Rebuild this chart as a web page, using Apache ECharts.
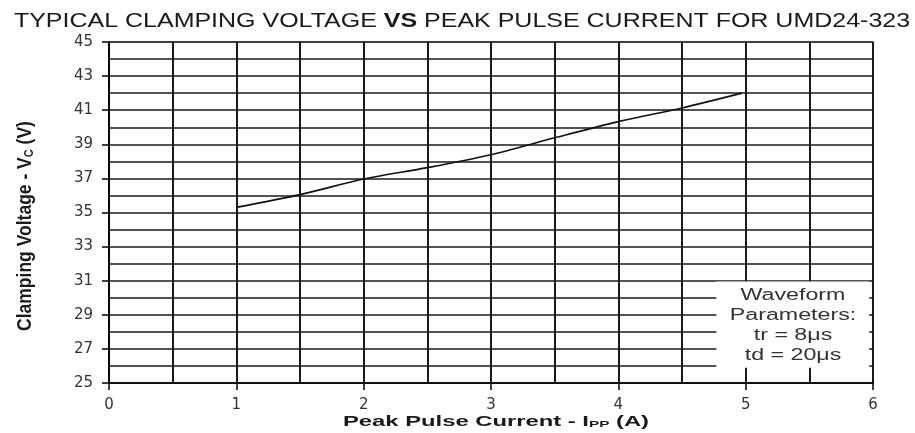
<!DOCTYPE html>
<html>
<head>
<meta charset="utf-8">
<script src="https://cdn.jsdelivr.net/npm/echarts@6/dist/echarts.min.js"></script>
<style>html,body{margin:0;padding:0;background:#fff}#c{width:915px;height:433px}</style>
</head>
<body>
<div id="c"></div>
<script>
// Data
var currentA = [1, 1.5, 2, 2.5, 3, 3.5, 4, 4.5, 4.97];
var clampV = [35.3, 36.05, 36.96, 37.63, 38.39, 39.38, 40.33, 41.13, 42.0];
var xTicks = [0, 1, 2, 3, 4, 5, 6];
var yTicks = [25, 27, 29, 31, 33, 35, 37, 39, 41, 43, 45];
var noteLines = ['Waveform', 'Parameters:', 'tr = 8\u03bcs', 'td = 20\u03bcs'];
var noteBox = [[4.77, 30.95], [5.97, 25.9]];

var chart = echarts.init(document.getElementById('c'), null, {renderer: 'canvas'});
var lineData = currentA.map(function (x, i) { return [x, clampV[i]]; });
var fontL = "'Liberation Sans', Arial, sans-serif";
var fontD = "'DejaVu Sans', sans-serif";

var option = {
  animation: false,
  backgroundColor: '#fff',
  grid: {left: 109, right: 42, top: 42, bottom: 50, show: true, borderColor: '#999', borderWidth: 1.5, backgroundColor: 'transparent'},
  xAxis: [{
    type: 'value', min: 0, max: 6, interval: 1,
    axisLine: {show: true, onZero: false, lineStyle: {color: '#000', width: 1.5}},
    axisTick: {show: true, length: 7, lineStyle: {color: '#000', width: 1.5}},
    axisLabel: {fontFamily: fontD, fontSize: 15, color: '#333', margin: 15,
      formatter: function (v) { return xTicks.indexOf(v) >= 0 ? String(v) : ''; }},
    splitLine: {show: false}
  }, {
    type: 'value', min: 0, max: 6, interval: 0.5, position: 'bottom',
    axisLine: {show: false}, axisTick: {show: false}, axisLabel: {show: false},
    splitLine: {show: true, lineStyle: {color: '#1a1a1a', width: 2}}
  }],
  yAxis: [{
    type: 'value', min: 25, max: 45, interval: 2,
    axisLine: {show: true, onZero: false, lineStyle: {color: '#000', width: 1.5}},
    axisTick: {show: true, length: 7, lineStyle: {color: '#000', width: 1.5}},
    axisLabel: {fontFamily: fontD, fontSize: 15, color: '#333', margin: 16,
      formatter: function (v) { return yTicks.indexOf(v) >= 0 ? String(v) : ''; }},
    splitLine: {show: false}
  }, {
    type: 'value', min: 25, max: 45, interval: 1, position: 'left',
    axisLine: {show: false}, axisTick: {show: false}, axisLabel: {show: false},
    splitLine: {show: true, lineStyle: {color: '#1a1a1a', width: 1.5}}
  }],
  graphic: [{
    type: 'text', x: 462, y: 21, scaleX: 1.19,
    style: {
      text: '{a|TYPICAL CLAMPING VOLTAGE }{b|VS}{a| PEAK PULSE CURRENT FOR UMD24-323}',
      textAlign: 'center', textVerticalAlign: 'middle',
      rich: {
        a: {fontFamily: fontL, fontSize: 21, fontWeight: 'normal', fill: '#1a1a1a'},
        b: {fontFamily: fontL, fontSize: 21, fontWeight: 'bold', fill: '#1a1a1a'}
      }
    }
  }, {
    type: 'text', x: 25, y: 226, rotation: Math.PI / 2, scaleY: 1.2,
    style: {
      text: '{a|Clamping Voltage - V}{s|C}{a| (V)}',
      textAlign: 'center', textVerticalAlign: 'middle',
      rich: {
        a: {fontFamily: fontL, fontSize: 17.5, fontWeight: 'bold', fill: '#1a1a1a'},
        s: {fontFamily: fontL, fontSize: 11, fontWeight: 'bold', fill: '#1a1a1a', padding: [7, 0, 0, 0]}
      }
    }
  }, {
    type: 'text', x: 496, y: 422, scaleX: 1.7,
    style: {
      text: '{a|Peak Pulse Current - I}{s|PP}{a| (A)}',
      textAlign: 'center', textVerticalAlign: 'middle',
      rich: {
        a: {fontFamily: fontL, fontSize: 14, fontWeight: 'bold', fill: '#1a1a1a'},
        s: {fontFamily: fontL, fontSize: 9, fontWeight: 'bold', fill: '#1a1a1a', padding: [6, 0, 0, 0]}
      }
    }
  }, {
    type: 'text', x: 793, y: 326, scaleX: 1.45, z: 10,
    style: {
      text: noteLines.join('\n'),
      textAlign: 'center', textVerticalAlign: 'middle',
      fontFamily: fontL, fontSize: 16, lineHeight: 20, fill: '#333'
    }
  }],
  series: [{
    type: 'line', xAxisIndex: 0, yAxisIndex: 0,
    data: lineData, smooth: 0.3, showSymbol: false, symbol: 'none',
    lineStyle: {color: '#111', width: 1.6},
    z: 3,
    markArea: {
      silent: true,
      itemStyle: {color: '#fff', opacity: 1},
      label: {show: false},
      data: [[{coord: noteBox[0]}, {coord: noteBox[1]}]]
    }
  }]
};
chart.setOption(option);
</script>
</body>
</html>
